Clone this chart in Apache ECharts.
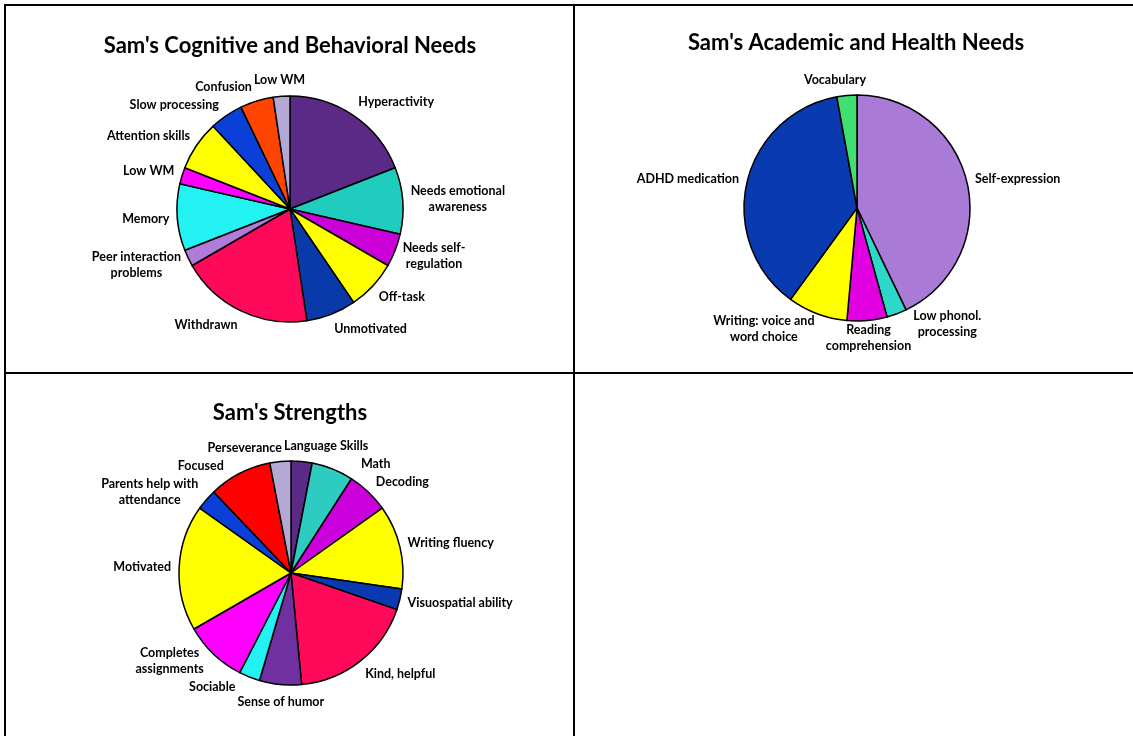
<!DOCTYPE html>
<html>
<head>
<meta charset="utf-8">
<script src="https://cdn.jsdelivr.net/npm/echarts@6/dist/echarts.min.js"></script>
<style>
html,body{margin:0;padding:0;background:#fff;}
#chart{width:1133px;height:736px;}
</style>
</head>
<body>
<div id="chart"></div>
<script>
// ---- data ----
const cogTitle = "Sam's Cognitive and Behavioral Needs";
const cogCategories = ['Hyperactivity','Needs emotional\nawareness','Needs self-\nregulation','Off-task','Unmotivated','Withdrawn','Peer interaction\nproblems','Memory','Low WM','Attention skills','Slow processing','Confusion','Low WM'];
const cogValues = [8,4,2,3,3,8,1,4,1,3,2,2,1];
const cogColors = ['#5B2A86','#20CCBE','#CC00D8','#FFFF00','#0A3AAA','#FF0A5A','#B07CDC','#22F2F2','#FF00FF','#FFFF00','#0A40D8','#FF4400','#B4A8D4'];

const acadTitle = "Sam's Academic and Health Needs";
const acadCategories = ['Self-expression','Low phonol.\nprocessing','Reading\ncomprehension','Writing: voice and\nword choice','ADHD medication','Vocabulary'];
const acadValues = [15,1,2,3,13,1];
const acadColors = ['#A97AD6','#2ED8C8','#E000E0','#FFFF00','#0A3AB0','#40E070'];

const strTitle = "Sam's Strengths";
const strCategories = ['Language Skills','Math','Decoding','Writing fluency','Visuospatial ability','Kind, helpful','Sense of humor','Sociable','Completes\nassignments','Motivated','Parents help with\nattendance','Focused','Perseverance'];
const strValues = [1,2,2,4,1,6,2,1,3,6,1,3,1];
const strColors = ['#5B2A86','#2ECCC0','#CC00DD','#FFFF00','#0A3AB0','#FF0A5A','#7030A0','#22F2F2','#FF00FF','#FFFF00','#0A40D8','#FF0000','#B4A8D4'];

// ---- layout ----
const FONT_FAMILY = 'Lato';
const LABEL_SIZE = 12.5;
const LINE_H = 16;
const TITLE_SIZE = 22;
const pies = [
  {title: cogTitle, names: cogCategories, values: cogValues, colors: cogColors, cx: 290, cy: 209, r: 113, tx: 290, ty: 35},
  {title: acadTitle, names: acadCategories, values: acadValues, colors: acadColors, cx: 857, cy: 208, r: 113, tx: 856, ty: 32},
  {title: strTitle, names: strCategories, values: strValues, colors: strColors, cx: 291, cy: 573, r: 112, tx: 290, ty: 402}
];

const mctx = document.createElement('canvas').getContext('2d');
mctx.font = 'bold ' + LABEL_SIZE + 'px ' + FONT_FAMILY;
function measure(text) {
  const lines = text.split('\n');
  let w = 0;
  lines.forEach(l => { w = Math.max(w, mctx.measureText(l).width); });
  return {w: w, h: lines.length * LINE_H};
}
function clamp(v) { return Math.max(-1, Math.min(1, v)); }

function placeLabels(p) {
  const total = p.values.reduce((a, b) => a + b, 0);
  let cum = 0;
  const boxes = [];
  p.values.forEach((v, i) => {
    const th = (cum + v / 2) / total * Math.PI * 2;
    cum += v;
    const s = Math.sin(th), c = Math.cos(th);
    const g = 8;
    const ax = p.cx + (p.r + g) * s;
    const ay = p.cy - (p.r + g) * c;
    const m = measure(p.names[i]);
    boxes.push({
      x: ax + clamp(s * 4) * m.w / 2,
      y: ay - c * LINE_H / 2,
      w: m.w, h: m.h, th: th
    });
  });
  // relax overlaps: push labels apart along the circle's tangent
  const pad = 2;
  for (let iter = 0; iter < 300; iter++) {
    let moved = false;
    for (let i = 0; i < boxes.length; i++) {
      for (let j = i + 1; j < boxes.length; j++) {
        const a = boxes[i], b = boxes[j];
        const ox = (a.w + b.w) / 2 + pad - Math.abs(a.x - b.x);
        const oy = (a.h + b.h) / 2 + pad - Math.abs(a.y - b.y);
        if (ox > 0 && oy > 0) {
          const step = Math.min(1, Math.min(ox, oy) / 2);
          let d = (b.th - a.th) % (2 * Math.PI);
          if (d < 0) d += 2 * Math.PI;
          const cwBox = d < Math.PI ? b : a;
          const ccwBox = d < Math.PI ? a : b;
          cwBox.x += Math.cos(cwBox.th) * step;
          cwBox.y += Math.sin(cwBox.th) * step;
          ccwBox.x -= Math.cos(ccwBox.th) * step;
          ccwBox.y -= Math.sin(ccwBox.th) * step;
          moved = true;
        }
      }
    }
    if (!moved) break;
  }
  return boxes;
}
const labelBoxes = pies.map(placeLabels);

const series = pies.map((p, si) => ({
  type: 'pie',
  center: [p.cx, p.cy],
  radius: p.r,
  startAngle: 90,
  clockwise: true,
  avoidLabelOverlap: false,
  animation: false,
  silent: true,
  data: p.names.map((n, i) => ({name: n, value: p.values[i], itemStyle: {color: p.colors[i]}})),
  itemStyle: {borderColor: '#000', borderWidth: 1.5},
  label: {
    show: true,
    position: 'outside',
    formatter: '{b}',
    color: '#000',
    fontFamily: FONT_FAMILY,
    fontWeight: 'bold',
    fontSize: LABEL_SIZE,
    lineHeight: LINE_H,
    align: 'center'
  },
  labelLine: {show: false},
  labelLayout: function (params) {
    const b = labelBoxes[si][params.dataIndex];
    return {x: b.x, y: b.y, align: 'center', verticalAlign: 'middle'};
  }
}));

const titles = pies.map(p => ({
  text: p.title,
  left: p.tx,
  top: p.ty,
  padding: 0,
  textAlign: 'center',
  textStyle: {fontFamily: FONT_FAMILY, fontWeight: 'bold', fontSize: TITLE_SIZE, color: '#000'}
}));

const LW = 2;
function line(x1, y1, x2, y2) {
  return {type: 'line', shape: {x1: x1, y1: y1, x2: x2, y2: y2}, style: {stroke: '#000', lineWidth: LW}, silent: true};
}
const graphics = [
  line(4, 5, 1133, 5),
  line(5, 4, 5, 736),
  line(574, 4, 574, 736),
  line(4, 373, 1133, 373)
];

const chart = echarts.init(document.getElementById('chart'), null, {renderer: 'canvas'});
chart.setOption({
  backgroundColor: '#fff',
  animation: false,
  title: titles,
  graphic: graphics,
  series: series
});
</script>
</body>
</html>
